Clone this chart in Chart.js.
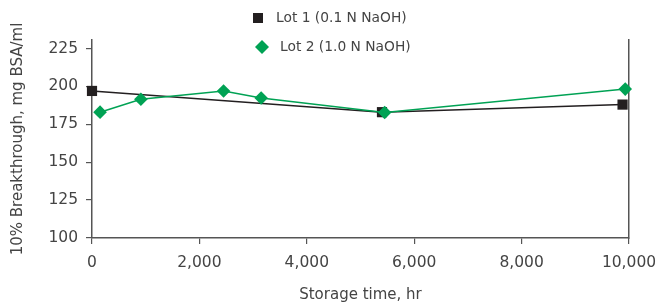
<!DOCTYPE html>
<html>
<head>
<meta charset="utf-8">
<script src="https://cdn.jsdelivr.net/npm/chart.js@4/dist/chart.umd.min.js"></script>
<style>
  html, body { margin:0; padding:0; background:#fff; }
  #wrap { width:660px; height:304px; position:relative; }
</style>
</head>
<body>
<div id="wrap"><canvas id="c"></canvas></div>
<script>
// --- data ------------------------------------------------------
const lot1Label  = 'Lot 1 (0.1 N NaOH)';
const lot1Hours  = [0, 5400, 9880];
const lot1Values = [197, 183, 188];

const lot2Label  = 'Lot 2 (1.0 N NaOH)';
const lot2Hours  = [150, 910, 2450, 3150, 5450, 9930];
const lot2Values = [183, 191.5, 197, 192.3, 182.8, 198.2];

const xTicks = [0, 2000, 4000, 6000, 8000, 10000];
const yTicks = [100, 125, 150, 175, 200, 225];

const xTitle = 'Storage time, hr';
const yTitle = '10% Breakthrough, mg BSA/ml';

// --- styles -----------------------------------------------------
const FONT = '"DejaVu Sans", "Liberation Sans", Arial, sans-serif';
const TXT  = '#444';
const AXIS = '#555';
const BLACK = '#231f20';
const GREEN = '#00a254';

const pts = (xs, ys) => xs.map((x,i)=>({x, y:ys[i]}));

// legend drawn by hand (stacked, top centre)
const legendPlugin = {
  id:'stackLegend',
  afterDraw(chart){
    const ctx = chart.ctx;
    ctx.save();
    ctx.font = '13.8px ' + FONT;
    ctx.textBaseline = 'middle';
    // square
    ctx.fillStyle = BLACK;
    ctx.fillRect(253, 13, 10, 10);
    ctx.fillStyle = TXT;
    ctx.fillText(lot1Label, 276, 18);
    // diamond
    ctx.fillStyle = GREEN;
    ctx.beginPath();
    ctx.moveTo(262, 40); ctx.lineTo(269, 47); ctx.lineTo(262, 54); ctx.lineTo(255, 47);
    ctx.closePath(); ctx.fill();
    ctx.fillStyle = TXT;
    ctx.fillText(lot2Label, 280, 47);
    ctx.restore();
  }
};

const noPad = s => { s.paddingLeft = 0; s.paddingRight = 0; s.paddingTop = 0; s.paddingBottom = 0; };

new Chart(document.getElementById('c'), {
  type:'line',
  data:{
    datasets:[
      {
        label: lot1Label,
        data: pts(lot1Hours, lot1Values),
        borderColor: BLACK, backgroundColor: BLACK,
        borderWidth: 1.5,
        pointStyle:'rect', pointRadius:7.2, pointHoverRadius:7.2,
        pointBorderWidth:0,
        tension:0, order:2, clip:false
      },
      {
        label: lot2Label,
        data: pts(lot2Hours, lot2Values),
        borderColor: GREEN, backgroundColor: GREEN,
        borderWidth: 1.5,
        pointStyle:'rectRot', pointRadius:6.8, pointHoverRadius:6.8,
        pointBorderWidth:0,
        tension:0, order:1, clip:false
      }
    ]
  },
  options:{
    responsive:true, maintainAspectRatio:false, animation:false,
    layout:{ padding:{ top:40, right:31, left:0, bottom:0 } },
    plugins:{ legend:{display:false}, tooltip:{enabled:false} },
    scales:{
      x:{
        type:'linear', min:0, max:10000,
        afterBuildTicks: s => { s.ticks = xTicks.map(v=>({value:v})); },
        afterFit: s => { s.height = 66; noPad(s); },
        grid:{ drawOnChartArea:false, tickLength:6, color:AXIS, lineWidth:1.2 },
        border:{ color:AXIS, width:1.5 },
        ticks:{ color:TXT, font:{family:FONT, size:15.5}, padding:10, maxRotation:0,
                callback: v => v.toLocaleString('en-US') },
        title:{ display:true, text:xTitle, color:TXT, font:{family:FONT, size:15},
                padding:{top:0, bottom:0} }
      },
      y:{
        type:'linear', min:100, max:230.6,
        afterBuildTicks: s => { s.ticks = yTicks.map(v=>({value:v})); },
        afterFit: s => { s.width = 92; noPad(s); },
        grid:{ drawOnChartArea:false, tickLength:6, color:AXIS, lineWidth:1.2 },
        border:{ color:AXIS, width:1.5 },
        ticks:{ color:TXT, font:{family:FONT, size:15.5}, padding:8 },
        title:{ display:true, text:yTitle, color:TXT, font:{family:FONT, size:15},
                padding:{top:9, bottom:0} }
      },
      y2:{
        type:'linear', position:'right', min:100, max:230.6,
        afterFit: s => { s.width = 0; noPad(s); },
        grid:{ display:false },
        border:{ color:AXIS, width:1.5 },
        ticks:{ display:false }
      }
    }
  },
  plugins:[legendPlugin]
});
</script>
</body>
</html>
